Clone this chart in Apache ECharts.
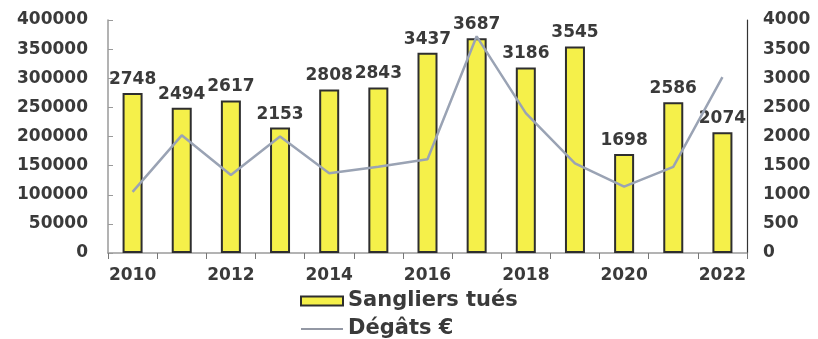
<!DOCTYPE html>
<html>
<head>
<meta charset="utf-8">
<script src="https://cdn.jsdelivr.net/npm/echarts@6/dist/echarts.min.js"></script>
<style>
  html, body { margin: 0; padding: 0; background: #ffffff; }
  #chart { width: 818px; height: 339px; }
</style>
</head>
<body>
<div id="chart"></div>
<script>
// Years on the category axis
const years = ['2010','2011','2012','2013','2014','2015','2016','2017','2018','2019','2020','2021','2022'];
// Wild boars killed per year (right axis)
const sangliers = [2748, 2494, 2617, 2153, 2808, 2843, 3437, 3687, 3186, 3545, 1698, 2586, 2074];
// Damage paid in euros per year (left axis)
const degats = [105000, 202000, 134000, 200000, 137000, 148000, 161000, 372000, 240000, 154000, 114000, 148000, 302000];

const FONT = '"DejaVu Sans", sans-serif';
const TEXT = '#3a3a3a';
const plain = v => String(v);

const chart = echarts.init(document.getElementById('chart'), null, { renderer: 'canvas' });

chart.setOption({
  backgroundColor: '#ffffff',
  animation: false,
  grid: { left: 108, right: 71, top: 20, bottom: 86 },
  legend: {
    orient: 'vertical',
    left: 295,
    top: 285,
    height: 70,
    itemWidth: 42,
    itemHeight: 9,
    itemGap: 6,
    textStyle: { fontFamily: FONT, fontWeight: 'bold', fontSize: 21, color: TEXT, lineHeight: 22 },
    data: [
      { name: 'Sangliers tués', icon: 'rect' },
      {
        name: 'Dégâts €',
        icon: 'path://M0,0 L42,0 L42,1.5 L0,1.5 Z',
        itemStyle: { color: '#6f7686' }
      }
    ]
  },
  xAxis: {
    type: 'category',
    data: years,
    boundaryGap: true,
    axisLine: { lineStyle: { color: '#9a9a9a', width: 1.5 } },
    axisTick: { show: true, alignWithLabel: false, interval: 0, length: 6, lineStyle: { color: '#777' } },
    axisLabel: {
      interval: 1,
      margin: 14,
      fontFamily: FONT, fontWeight: 'bold', fontSize: 17, color: TEXT
    },
    splitLine: { show: false }
  },
  yAxis: [
    {
      type: 'value',
      min: 0, max: 400000, interval: 50000,
      position: 'left',
      axisLine: { show: true, lineStyle: { color: '#9a9a9a', width: 1.5 } },
      axisTick: { show: true, inside: true, length: 5, lineStyle: { color: '#9a9a9a' } },
      axisLabel: { margin: 20, formatter: plain, fontFamily: FONT, fontWeight: 'bold', fontSize: 17, color: TEXT },
      splitLine: { show: false }
    },
    {
      type: 'value',
      min: 0, max: 4000, interval: 500,
      position: 'right',
      axisLine: { show: true, lineStyle: { color: '#333', width: 1.2 } },
      axisTick: { show: false },
      axisLabel: { margin: 16, formatter: plain, fontFamily: FONT, fontWeight: 'bold', fontSize: 17, color: TEXT },
      splitLine: { show: false }
    }
  ],
  series: [
    {
      name: 'Sangliers tués',
      type: 'bar',
      yAxisIndex: 1,
      data: sangliers,
      barWidth: 20,
      itemStyle: { color: '#f5f04a', borderColor: '#2e2e2e', borderWidth: 2 },
      label: {
        show: true,
        position: 'top',
        distance: 5,
        fontFamily: FONT, fontWeight: 'bold', fontSize: 17, color: TEXT
      },
      z: 2
    },
    {
      name: 'Dégâts €',
      type: 'line',
      yAxisIndex: 0,
      data: degats,
      symbol: 'none',
      lineStyle: { color: '#9aa3b4', width: 2.5 },
      itemStyle: { color: '#6f7686' },
      z: 3
    }
  ]
});
</script>
</body>
</html>
